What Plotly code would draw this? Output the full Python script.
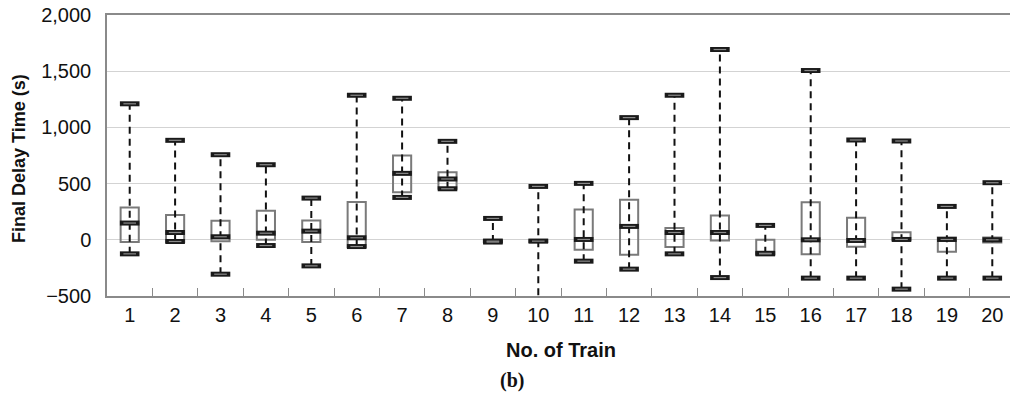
import plotly.graph_objects as go

trains = list(range(1, 21))
upper = [1210, 885, 757, 668, 371, 1286, 1259, 876, 190, 475, 502, 1087, 1286, 1693, 128, 1506, 888, 879, 297, 508]
q3 = [288, 220, 169, 258, 172, 336, 751, 600, 0, 0, 270, 356, 104, 217, 0, 333, 196, 68, 21, 21]
median = [149, 65, 27, 59, 77, 18, 591, 541, -12, -12, 3, 119, 65, 65, -120, 0, -6, 3, 3, 0]
q1 = [-20, -20, -12, 0, -20, -65, 422, 454, -20, -20, -89, -134, -65, -6, -128, -128, -62, 0, -107, -24]
lower = [-125, -15, -306, -51, -232, -60, 377, 454, -20, -600, -190, -261, -125, -336, -125, -341, -341, -439, -341, -341]

y_ticks = [-500, 0, 500, 1000, 1500, 2000]
y_ticktext = ["\u2212500", "0", "500", "1,000", "1,500", "2,000"]

fig = go.Figure()

# boxes
fig.add_trace(go.Bar(
    x=trains, y=[a - b for a, b in zip(q3, q1)], base=q1, width=0.4,
    marker=dict(color="rgba(0,0,0,0)", line=dict(color="#7a7a7a", width=2)),
    hoverinfo="skip"))

# dashed whiskers
wx, wy = [], []
for t, lo, hi in zip(trains, lower, upper):
    wx += [t, t, None]
    wy += [lo, hi, None]
fig.add_trace(go.Scatter(x=wx, y=wy, mode="lines",
                         line=dict(color="#111111", width=2, dash="7px,5px"),
                         hoverinfo="skip"))

# caps and medians
cx = trains * 3
cy = upper + lower + median
fig.add_trace(go.Scatter(x=cx, y=cy, mode="markers",
                         marker=dict(symbol="line-ew", size=14,
                                     line=dict(color="#1a1a1a", width=5)),
                         hoverinfo="skip"))
fig.add_trace(go.Scatter(x=cx, y=cy, mode="markers",
                         marker=dict(symbol="line-ew", size=9,
                                     line=dict(color="#8a8a8a", width=1.2)),
                         hoverinfo="skip"))

font_family = "Liberation Sans, Arial, sans-serif"

fig.update_layout(
    width=1010, height=395,
    margin=dict(l=107, r=0, t=15, b=99),
    plot_bgcolor="white", paper_bgcolor="white",
    showlegend=False,
    barmode="overlay",
    font=dict(family=font_family, size=18, color="#111111"),
    xaxis=dict(
        range=[0.5, 20.39], tickvals=trains, ticktext=[str(t) for t in trains],
        ticks="", showgrid=False, zeroline=False,
        showline=True, linecolor="#8a8a8a", linewidth=1.5, mirror=True,
        tickfont=dict(size=20),
        minor=dict(tickvals=[t + 0.5 for t in trains], ticks="inside",
                   ticklen=8, tickcolor="#8a8a8a", tickwidth=1.2, showgrid=False),
    ),
    yaxis=dict(
        range=[-500, 2000], tickvals=y_ticks, ticktext=y_ticktext,
        ticks="", showgrid=True, gridcolor="#d3d3d3", gridwidth=1.2,
        zeroline=False, showline=True, linecolor="#8a8a8a", linewidth=1.5,
        tickfont=dict(size=20), ticklabelstandoff=10,
    ),
)

fig.add_annotation(text="<b>No. of Train</b>", xref="paper", yref="paper",
                   x=0.503, y=-0.192, showarrow=False, xanchor="center", yanchor="middle",
                   font=dict(size=20, family=font_family, color="#111111"))
fig.add_annotation(text="<b>Final Delay Time (s)</b>", xref="paper", yref="paper",
                   x=-0.0975, y=0.491, showarrow=False, textangle=-90,
                   xanchor="center", yanchor="middle",
                   font=dict(size=18, family=font_family, color="#111111"))
fig.add_annotation(text="<b>(b)</b>", xref="paper", yref="paper",
                   x=0.448, y=-0.302, showarrow=False, xanchor="center", yanchor="middle",
                   font=dict(size=20, family="Liberation Serif, Times New Roman, serif", color="#111111"))

fig.write_html("out.html")
